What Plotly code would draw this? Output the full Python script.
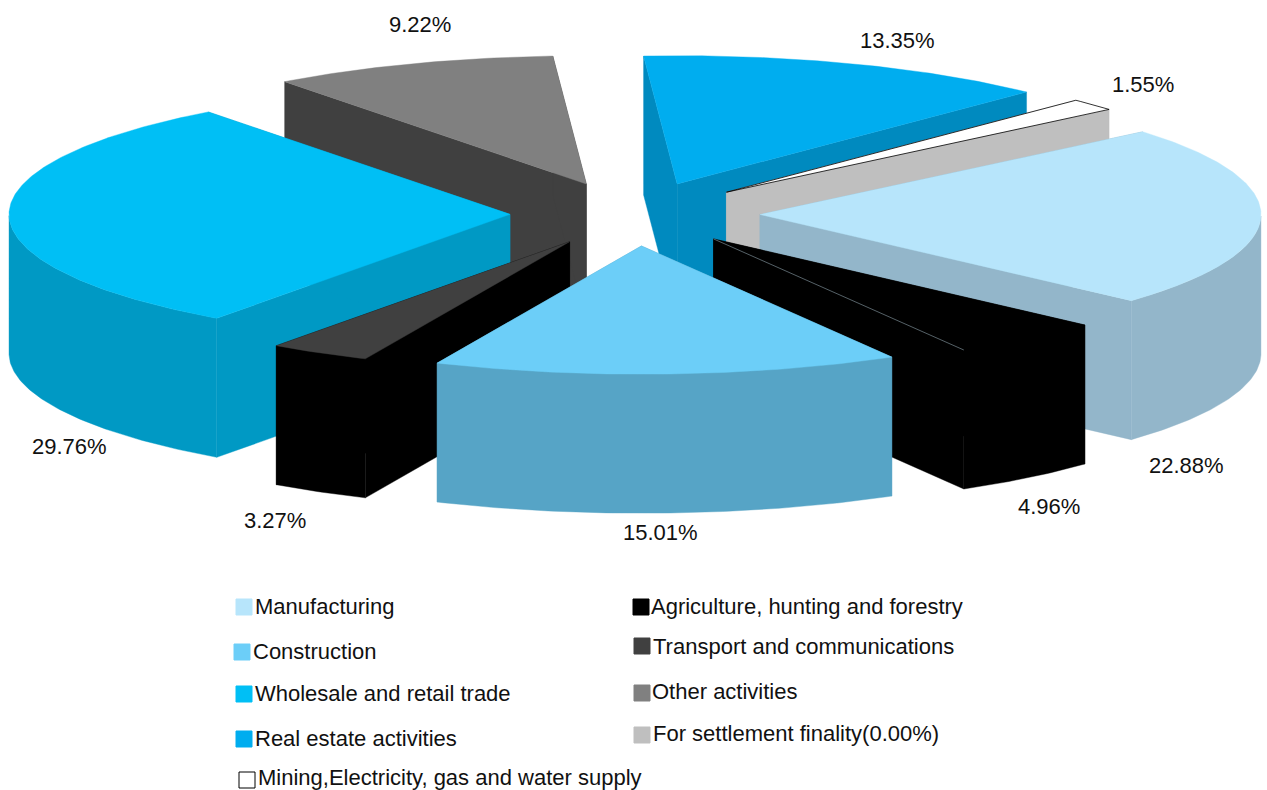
import math
import plotly.graph_objects as go

# ---- data ----
slices = ["Manufacturing", "Agriculture, hunting and forestry", "Construction",
          "Transport and communications", "Wholesale and retail trade",
          "Other activities", "Real estate activities",
          "Mining,Electricity, gas and water supply"]
shares = [22.88, 4.96, 15.01, 3.27, 29.76, 9.22, 13.35, 1.55]
share_labels = ["22.88%", "4.96%", "15.01%", "3.27%", "29.76%", "9.22%", "13.35%", "1.55%"]
legend_names = ["Manufacturing", "Construction", "Wholesale and retail trade",
                "Real estate activities", "Mining,Electricity, gas and water supply",
                "Agriculture, hunting and forestry", "Transport and communications",
                "Other activities", "For settlement finality(0.00%)"]

# ---- styles ----
top_colors = ["#b7e5fb", "#000000", "#6ccef8", "#404040", "#00bff5", "#808080", "#00adef", "#ffffff"]
side_colors = ["#93b6ca", "#000000", "#56a4c6", "#000000", "#0099c4", "#404040", "#008abf", "#bfbfbf"]
legend_colors = ["#b7e5fb", "#6ccef8", "#00bff5", "#00adef", "#ffffff",
                 "#000000", "#404040", "#808080", "#bfbfbf"]
W, H = 1267, 790
CX, CY, R, TILT, DEPTH, EXPLODE, START = 635, 214, 501, 0.256, 139, 125, 40.2
NUDGE_X = [0, 0, 0, -3, 0, -5, -1, 0]
PAINT_ORDER = [5, 6, 7, 0, 1, 4, 3, 2]
FONT = "Liberation Sans"
FS = 22
label_pos = [(1186, 465), (1049, 506), (660, 532), (275, 520), (69, 446), (420, 24), (897, 40), (1143, 84)]
legend_pos = [(243, 607, 253), (241, 652, 251), (243, 694, 253), (243, 739, 253), (246, 780, 256),
              (640, 607, 649), (641, 646, 651), (641, 693, 650), (641, 735, 651)]
legend_text_dy = [-1, -1, -1, -1, -3, -1, 0, -2, -2]

# geometry derived from the shares
angles = []
a = START
for s in shares:
    b = a - s * 3.6
    angles.append((a, b))
    a = b


def pt(ox, oy, t, r=R):
    rad = math.radians(t)
    return ox + r * math.cos(rad), oy - r * TILT * math.sin(rad)


def poly(xs, ys, fill, line=None):
    xs, ys = list(xs), list(ys)
    return go.Scatter(x=xs + xs[:1], y=ys + ys[:1], mode="lines", fill="toself", fillcolor=fill,
                      line=dict(color=line or fill, width=0.8 if line else 0.4),
                      hoverinfo="skip", showlegend=False)


fig = go.Figure()
for i in PAINT_ORDER:
    a, b = angles[i]
    mid = (a + b) / 2
    ox, oy = pt(CX + NUDGE_X[i], CY, mid, EXPLODE)
    n = max(4, int((a - b) * 1.5))
    ts = [a + (b - a) * k / n for k in range(n + 1)]
    arc = [pt(ox, oy, t) for t in ts]
    ax, ay = [p[0] for p in arc], [p[1] for p in arc]
    side = side_colors[i]
    # radial walls
    for p in (arc[0], arc[-1]):
        fig.add_trace(poly([ox, p[0], p[0], ox], [oy, p[1], p[1] + DEPTH, oy + DEPTH], side))
    # outer wall: only the part facing the viewer
    front = [p for p, t in zip(arc, ts) if math.sin(math.radians(t)) <= 0]
    if len(front) > 1:
        fx, fy = [p[0] for p in front], [p[1] for p in front]
        fig.add_trace(poly(fx + fx[::-1], fy + [y + DEPTH for y in fy[::-1]], side))
    # top
    outline = "#000000" if top_colors[i] == "#ffffff" else None
    fig.add_trace(poly([ox] + ax, [oy] + ay, top_colors[i], outline))
    if i == 1:  # hairline between top and wall of the black slice
        fig.add_trace(go.Scatter(x=[ox, ax[-1]], y=[oy, ay[-1]], mode="lines",
                                 line=dict(color="#8fa3ad", width=0.6),
                                 hoverinfo="skip", showlegend=False))

# legend swatches and labels
for name, col, (sx, y, tx), dy in zip(legend_names, legend_colors, legend_pos, legend_text_dy):
    fig.add_trace(go.Scatter(x=[sx + 1], y=[y], mode="markers", hoverinfo="skip", showlegend=False,
                             marker=dict(symbol="square", size=16, color=col,
                                         line=dict(color="#000000" if col == "#ffffff" else col, width=1))))
    fig.add_annotation(x=tx, y=y + dy, text=name, showarrow=False, xanchor="left", yanchor="middle",
                       font=dict(family=FONT, size=FS, color="#111111"))

for txt, (x, y) in zip(share_labels, label_pos):
    fig.add_annotation(x=x, y=y, text=txt, showarrow=False, xanchor="center", yanchor="middle",
                       font=dict(family=FONT, size=FS, color="#111111"))

fig.update_layout(width=W, height=H, margin=dict(l=0, r=0, t=0, b=0), autosize=False,
                  paper_bgcolor="white", plot_bgcolor="white", showlegend=False,
                  xaxis=dict(range=[0, W], visible=False, fixedrange=True),
                  yaxis=dict(range=[H, 0], visible=False, fixedrange=True))
fig.write_html("out.html", config={"displayModeBar": False},
               post_script="document.body.style.margin='0';document.body.style.overflow='hidden';")
